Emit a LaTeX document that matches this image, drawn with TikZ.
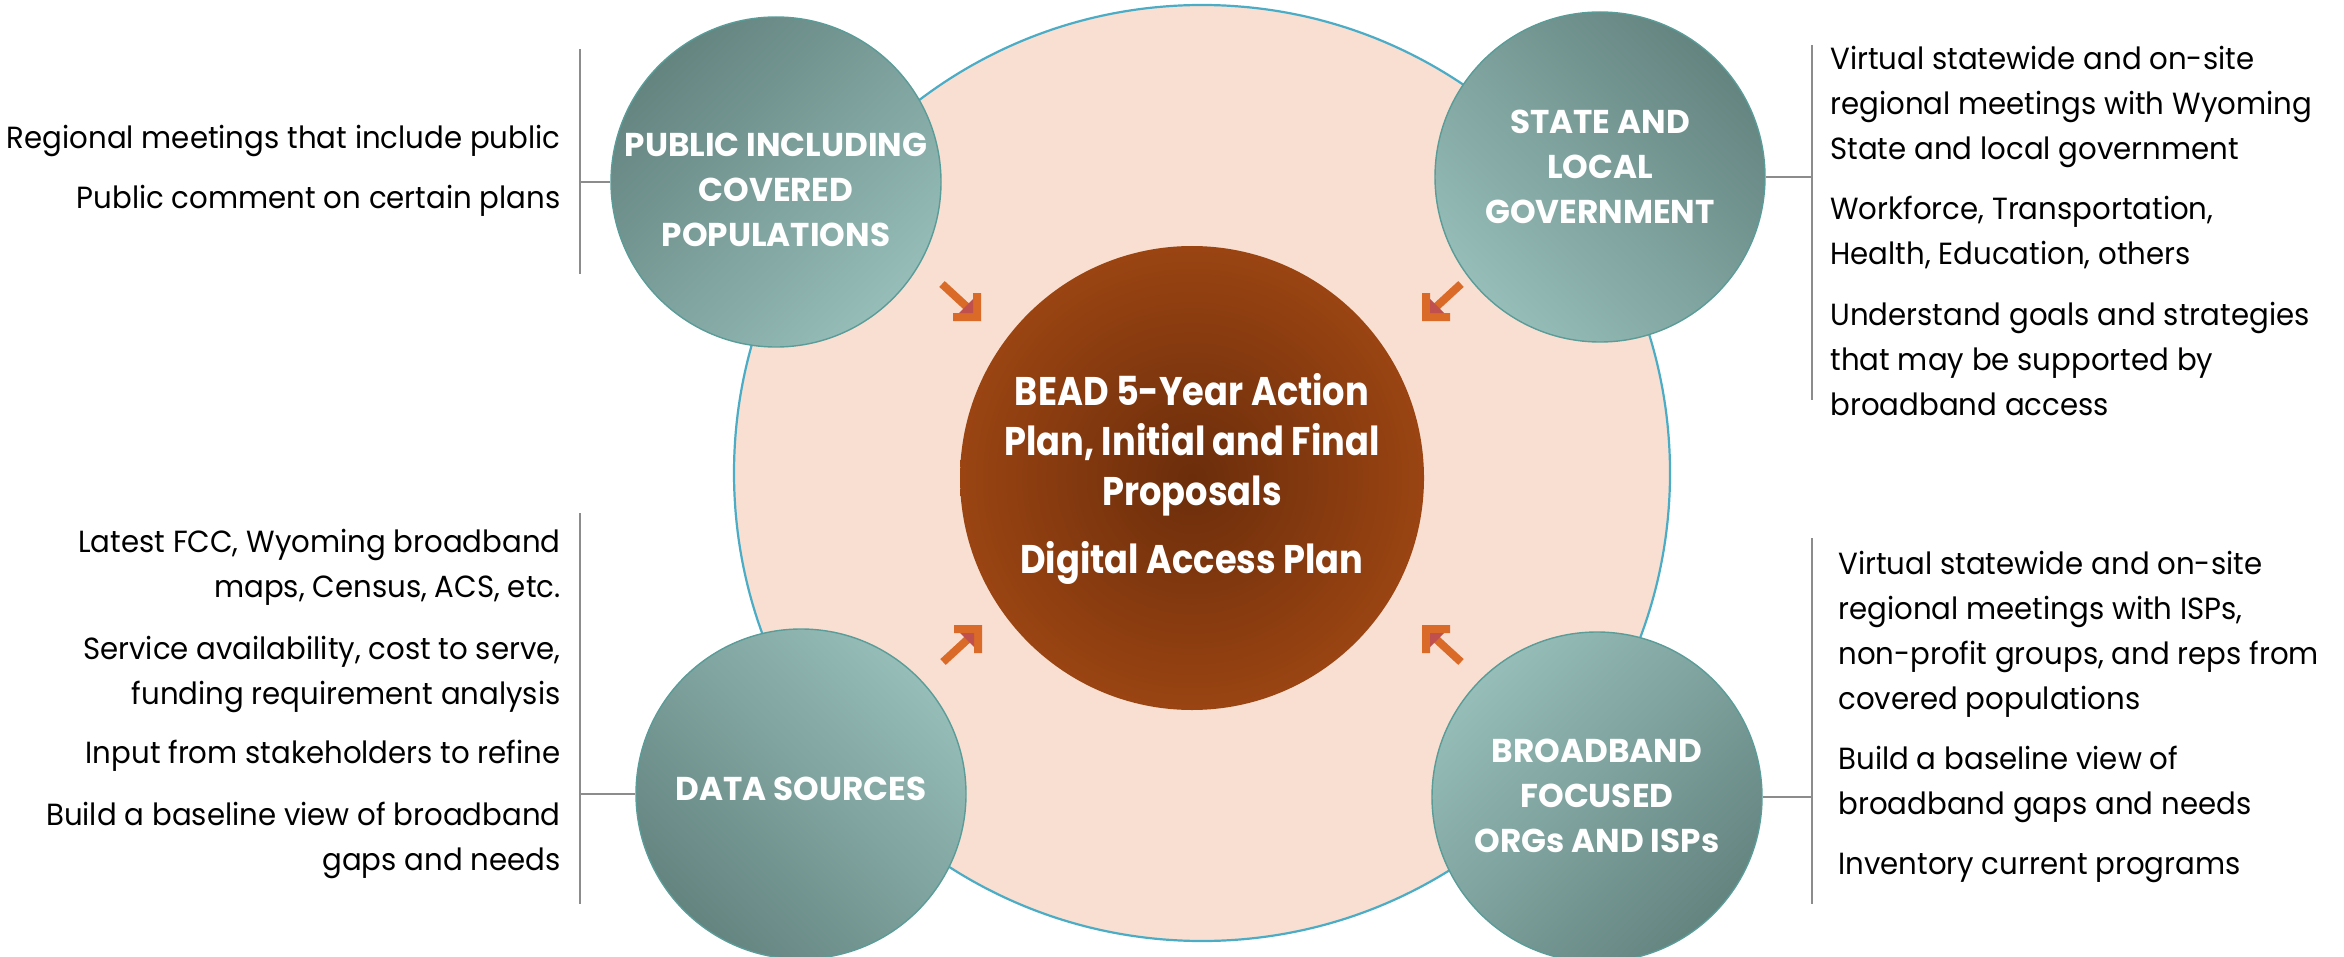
\documentclass[tikz,border=0pt]{standalone}
\usepackage{fontspec}
\setmainfont{Poppins}[FakeStretch=0.955]
\newfontfamily\hubfont{Poppins}[FakeStretch=0.88]
\newfontfamily\bubfont{Poppins}[FakeStretch=0.99]
\definecolor{peach}{HTML}{F8DFD2}
\definecolor{ringblue}{HTML}{4BACC6}
\definecolor{tealdark}{HTML}{648480}
\definecolor{teallight}{HTML}{96BDB8}
\definecolor{tealedge}{HTML}{5A9C98}
\definecolor{brownin}{HTML}{6B2D0B}
\definecolor{brownout}{HTML}{9A4412}
\definecolor{arrowor}{HTML}{DA6A28}
\definecolor{arrowred}{HTML}{C0504D}
\definecolor{linegray}{HTML}{8C8C8C}
\begin{document}
\begin{tikzpicture}[x=0.5pt,y=-0.5pt,
  ring/.style={circle,inner sep=0pt,minimum size=468pt,fill=peach,draw=ringblue,line width=1.1pt},
  hub/.style={circle,inner sep=0pt,minimum size=232pt,inner color=brownin,outer color=brownout},
  bubble/.style={circle,inner sep=0pt,minimum size=165pt,draw=tealedge,line width=0.7pt},
  circtext/.style={align=center,text=white,font=\bubfont\fontsize{16.5}{22.5}\selectfont\bfseries,inner sep=0pt},
  hubtext/.style={align=center,text=white,font=\hubfont\fontsize{20}{25}\selectfont\bfseries,inner sep=0pt},
  sidetext/.style={inner sep=0pt,font=\fontsize{15.3}{22.5}\selectfont,text height=11pt,text depth=3.5pt},
  bracket/.style={draw=linegray,line width=1pt},
  arrowfill/.style={fill=arrowor},
  inarrow/.pic={
    \draw[arrowor,line width=4pt] (-39,-37) -- (-14,-14);
    \path[arrowfill] (0,0) -- (-28,0) -- (-28,-8) -- (-8,-8) -- (-8,-28) -- (0,-28) -- cycle;
    \fill[arrowred] (-8,-8) -- (-22,-8) -- (-8,-22) -- cycle;
  }
]
\useasboundingbox (0,0) rectangle (2344,957);

% big ring
\node[ring] (ring) at (1202,473) {};

% four bubbles
\node[bubble,top color=tealdark,bottom color=teallight,shading angle=45] (pub) at (776,182) {};
\node[bubble,top color=tealdark,bottom color=teallight,shading angle=-45] (gov) at (1600,177) {};
\node[bubble,top color=teallight,bottom color=tealdark,shading angle=-45] (data) at (801,794) {};
\node[bubble,top color=teallight,bottom color=tealdark,shading angle=45] (isp) at (1597,797) {};

% hub
\node[hub] (hub) at (1192,478) {};

% arrows
\pic (a1) at (981,321) {inarrow};
\pic[xscale=-1] (a2) at (1422,321) {inarrow};
\pic[yscale=-1] (a3) at (982,625) {inarrow};
\pic[xscale=-1,yscale=-1] (a4) at (1422,625) {inarrow};

% bubble texts
\node[circtext] (pubt) at (776,190) {PUBLIC INCLUDING\\COVERED\\POPULATIONS};
\node[circtext] (govt) at (1600,167) {STATE AND\\LOCAL\\GOVERNMENT};
\node[circtext] (datat) at (801,789) {DATA SOURCES};
\node[circtext] (ispt) at (1597,796) {BROADBAND\\FOCUSED\\ORGs AND ISPs};

% hub texts
\node[hubtext] (hubt1) at (1192,445) {BEAD 5-Year Action\\Plan, Initial and Final\\Proposals};
\node[hubtext] (hubt2) at (1192,563) {Digital Access Plan};

% brackets
\coordinate (tlb1) at (580,49);  \coordinate (tlb2) at (580,274);
\coordinate (trb1) at (1812,45); \coordinate (trb2) at (1812,400);
\coordinate (blb1) at (580,513); \coordinate (blb2) at (580,904);
\coordinate (brb1) at (1812,538);\coordinate (brb2) at (1812,904);
\draw[bracket] (tlb1) -- (tlb2);
\draw[bracket] (trb1) -- (trb2);
\draw[bracket] (blb1) -- (blb2);
\draw[bracket] (brb1) -- (brb2);
\draw[bracket] (pub.west) -- (pub.west -| tlb1);
\draw[bracket] (gov.east) -- (gov.east -| trb1);
\draw[bracket] (data.west) -- (data.west -| blb1);
\draw[bracket] (isp.east) -- (isp.east -| brb1);

% side texts
\foreach \t/\yy [count=\i] in {
  {Regional meetings that include public}/141,
  {Public comment on certain plans}/201}
  \node[sidetext,anchor=east,name=tl\i] at (561,\yy) {\t};
\foreach \t/\yy [count=\i] in {
  {Virtual statewide and on-site}/62,
  {regional meetings with Wyoming}/107,
  {State and local government}/152,
  {Workforce, Transportation,}/212,
  {Health, Education, others}/257,
  {Understand goals and strategies}/318,
  {that may be supported by}/363,
  {broadband access}/408}
  \node[sidetext,anchor=west,name=tr\i] at (1830,\yy) {\t};
\foreach \t/\yy [count=\i] in {
  {Latest FCC, Wyoming broadband}/545,
  {maps, Census, ACS, etc.}/590,
  {Service availability, cost to serve,}/652,
  {funding requirement analysis}/697,
  {Input from stakeholders to refine}/756,
  {Build a baseline view of broadband}/818,
  {gaps and needs}/863}
  \node[sidetext,anchor=east,name=bl\i] at (561,\yy) {\t};
\foreach \t/\yy [count=\i] in {
  {Virtual statewide and on-site}/567,
  {regional meetings with ISPs,}/612,
  {non-profit groups, and reps from}/657,
  {covered populations}/702,
  {Build a baseline view of}/762,
  {broadband gaps and needs}/807,
  {Inventory current programs}/867}
  \node[sidetext,anchor=west,name=br\i] at (1838,\yy) {\t};
\end{tikzpicture}
\end{document}
